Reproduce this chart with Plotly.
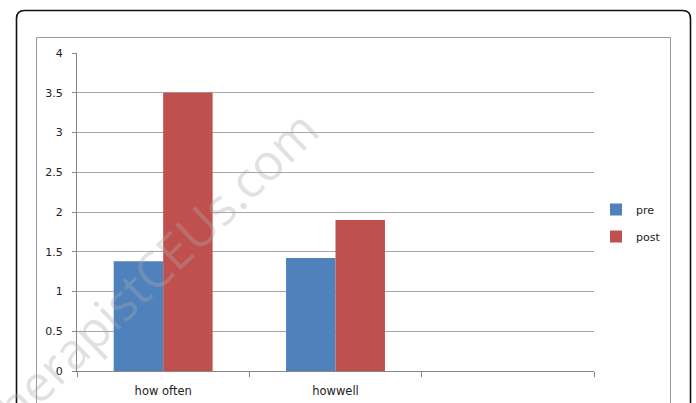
import plotly.graph_objects as go

# Survey scores: mean rating before and after
categories = ["how often", "howwell", ""]
pre_values = [1.38, 1.42]
post_values = [3.5, 1.9]
y_ticks = [0, 0.5, 1, 1.5, 2, 2.5, 3, 3.5, 4]

W, H = 696, 403
L, R, T, B = 77, 594, 53, 371

def px_x(px):
    return (px - L) / (R - L)

def px_y(py):
    return (B - py) / (B - T)

blue = "#4F81BD"
red = "#C0504D"
font = "DejaVu Sans"

x_idx = list(range(len(pre_values)))

fig = go.Figure()
fig.add_trace(go.Bar(x=x_idx, y=pre_values, name="pre", marker_color=blue,
                     marker_line_width=0, legendgroup="pre"))
fig.add_trace(go.Bar(x=x_idx, y=post_values, name="post", marker_color=red,
                     marker_line_width=0, legendgroup="post"))

# Chart frame: rounded outer border and the gray inner plot-area border
x0, x1, y0, yb, r = px_x(16.5), px_x(690.5), px_y(10.5), px_y(420), 8
rx, ry = r / (R - L), r / (B - T)
outer = (f"M{x0},{yb} L{x0},{y0 - ry} Q{x0},{y0} {x0 + rx},{y0} "
         f"L{x1 - rx},{y0} Q{x1},{y0} {x1},{y0 - ry} L{x1},{yb}")
fig.add_shape(type="path", path=outer, xref="paper", yref="paper",
              line=dict(color="#111111", width=1.6), layer="above")
fig.add_shape(type="path",
              path=(f"M{px_x(36.5)},{px_y(420)} L{px_x(36.5)},{px_y(37.5)} "
                    f"L{px_x(670.5)},{px_y(37.5)} L{px_x(670.5)},{px_y(420)}"),
              xref="paper", yref="paper",
              line=dict(color="#9a9a9a", width=1), layer="below")

# Site watermark
fig.add_annotation(text="TherapistCEUs.com", xref="paper", yref="paper",
                   x=px_x(146), y=px_y(277), xanchor="center",
                   yanchor="middle", showarrow=False, textangle=-44,
                   font=dict(family="Open Sans", size=50,
                             color="rgba(170,170,170,0.35)"))

fig.update_layout(
    width=W, height=H,
    margin=dict(l=L, r=W - R, t=T, b=H - B, pad=0),
    paper_bgcolor="white", plot_bgcolor="white",
    barmode="group", bargap=0.426, bargroupgap=0,
    font=dict(family=font, size=11, color="#222222"),
    showlegend=True,
    legend=dict(x=px_x(596), y=px_y(195), xanchor="left", yanchor="top",
                traceorder="grouped", tracegroupgap=8,
                font=dict(family=font, size=11, color="#222222"),
                bgcolor="rgba(0,0,0,0)"),
    xaxis=dict(range=[-0.5, 2.5], tickmode="array",
               tickvals=list(range(len(categories))), ticktext=categories,
               ticks="", showgrid=False, zeroline=False,
               showline=True, linecolor="#868686", linewidth=1,
               ticklabelstandoff=9, automargin=False,
               tickfont=dict(family=font, size=11.5, color="#222222"),
               minor=dict(tickmode="array", tickvals=[-0.5, 0.5, 1.5, 2.5],
                          ticks="outside", ticklen=5, tickcolor="#868686",
                          showgrid=False),
               fixedrange=True),
    yaxis=dict(range=[0, 4], tickmode="array", tickvals=y_ticks,
               ticktext=[f"{v:g}" for v in y_ticks],
               showgrid=True, gridcolor="#a6a6a6", gridwidth=1,
               zeroline=False, showline=True, linecolor="#868686",
               linewidth=1, ticks="outside", ticklen=4, tickcolor="#868686",
               ticklabelstandoff=7, automargin=False,
               tickfont=dict(family=font, size=11, color="#222222"),
               fixedrange=True),
)

fig.write_html("out.html")
